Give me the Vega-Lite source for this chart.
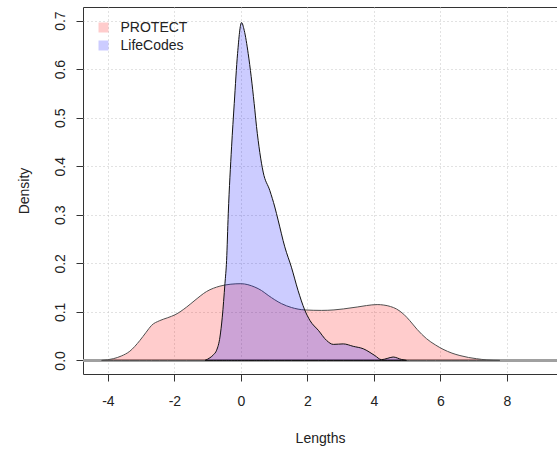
{
  "$schema": "https://vega.github.io/schema/vega-lite/v6.json",
  "width": 474,
  "height": 367,
  "autosize": {"type": "none"},
  "padding": {"left": 83, "top": 7, "right": 0, "bottom": 75},
  "background": "white",
  "config": {
    "font": "Liberation Sans",
    "view": {"stroke": "#333333", "strokeWidth": 1},
    "axis": {
      "labelFont": "Liberation Sans",
      "labelFontSize": 14,
      "labelColor": "#222222",
      "titleFont": "Liberation Sans",
      "titleFontSize": 14,
      "titleFontWeight": "normal",
      "titleColor": "#222222",
      "tickColor": "#333333",
      "tickSize": 7,
      "domain": false,
      "grid": true,
      "gridColor": "#c4c4c4",
      "gridDash": [1, 3],
      "gridWidth": 1,
      "labelFlush": false
    },
    "legend": {
      "orient": "none",
      "legendX": 13.5,
      "legendY": 13.5,
      "padding": 0,
      "symbolType": "square",
      "symbolSize": 100,
      "symbolStrokeWidth": 0,
      "labelFont": "Liberation Sans",
      "labelFontSize": 14,
      "labelColor": "#222222",
      "labelOffset": 10,
      "rowPadding": 4
    }
  },
  "data": {
    "values": [
      {"series": "PROTECT", "x": -4.19, "d": 0},
      {"series": "PROTECT", "x": -3.84, "d": 0.0035},
      {"series": "PROTECT", "x": -3.6, "d": 0.009},
      {"series": "PROTECT", "x": -3.34, "d": 0.019},
      {"series": "PROTECT", "x": -3.04, "d": 0.041},
      {"series": "PROTECT", "x": -2.85, "d": 0.058},
      {"series": "PROTECT", "x": -2.69, "d": 0.072},
      {"series": "PROTECT", "x": -2.44, "d": 0.082},
      {"series": "PROTECT", "x": -2.2, "d": 0.088},
      {"series": "PROTECT", "x": -1.98, "d": 0.094},
      {"series": "PROTECT", "x": -1.63, "d": 0.11},
      {"series": "PROTECT", "x": -1.38, "d": 0.124},
      {"series": "PROTECT", "x": -1.03, "d": 0.142},
      {"series": "PROTECT", "x": -0.63, "d": 0.153},
      {"series": "PROTECT", "x": -0.3, "d": 0.157},
      {"series": "PROTECT", "x": 0, "d": 0.158},
      {"series": "PROTECT", "x": 0.42, "d": 0.151},
      {"series": "PROTECT", "x": 0.62, "d": 0.144},
      {"series": "PROTECT", "x": 0.82, "d": 0.134},
      {"series": "PROTECT", "x": 1.22, "d": 0.117},
      {"series": "PROTECT", "x": 1.52, "d": 0.109},
      {"series": "PROTECT", "x": 1.92, "d": 0.104},
      {"series": "PROTECT", "x": 2.43, "d": 0.103},
      {"series": "PROTECT", "x": 2.8, "d": 0.104},
      {"series": "PROTECT", "x": 3.08, "d": 0.106},
      {"series": "PROTECT", "x": 3.5, "d": 0.11},
      {"series": "PROTECT", "x": 3.78, "d": 0.113},
      {"series": "PROTECT", "x": 4.1, "d": 0.115},
      {"series": "PROTECT", "x": 4.3, "d": 0.114},
      {"series": "PROTECT", "x": 4.5, "d": 0.111},
      {"series": "PROTECT", "x": 4.68, "d": 0.106},
      {"series": "PROTECT", "x": 4.9, "d": 0.095},
      {"series": "PROTECT", "x": 5.08, "d": 0.082},
      {"series": "PROTECT", "x": 5.3, "d": 0.064},
      {"series": "PROTECT", "x": 5.58, "d": 0.045},
      {"series": "PROTECT", "x": 5.85, "d": 0.032},
      {"series": "PROTECT", "x": 6.08, "d": 0.023},
      {"series": "PROTECT", "x": 6.35, "d": 0.015},
      {"series": "PROTECT", "x": 6.59, "d": 0.01},
      {"series": "PROTECT", "x": 6.85, "d": 0.006},
      {"series": "PROTECT", "x": 7.09, "d": 0.0035},
      {"series": "PROTECT", "x": 7.4, "d": 0.001},
      {"series": "PROTECT", "x": 7.79, "d": 0},
      {"series": "LifeCodes", "x": -1.08, "d": 0},
      {"series": "LifeCodes", "x": -0.93, "d": 0.0055},
      {"series": "LifeCodes", "x": -0.82, "d": 0.012},
      {"series": "LifeCodes", "x": -0.73, "d": 0.021},
      {"series": "LifeCodes", "x": -0.63, "d": 0.048},
      {"series": "LifeCodes", "x": -0.56, "d": 0.089},
      {"series": "LifeCodes", "x": -0.48, "d": 0.158},
      {"series": "LifeCodes", "x": -0.43, "d": 0.206},
      {"series": "LifeCodes", "x": -0.38, "d": 0.302},
      {"series": "LifeCodes", "x": -0.28, "d": 0.44},
      {"series": "LifeCodes", "x": -0.2, "d": 0.529},
      {"series": "LifeCodes", "x": -0.1, "d": 0.632},
      {"series": "LifeCodes", "x": 0.02, "d": 0.696},
      {"series": "LifeCodes", "x": 0.1, "d": 0.68},
      {"series": "LifeCodes", "x": 0.22, "d": 0.632},
      {"series": "LifeCodes", "x": 0.4, "d": 0.529},
      {"series": "LifeCodes", "x": 0.47, "d": 0.482},
      {"series": "LifeCodes", "x": 0.57, "d": 0.428},
      {"series": "LifeCodes", "x": 0.67, "d": 0.388},
      {"series": "LifeCodes", "x": 0.87, "d": 0.35},
      {"series": "LifeCodes", "x": 1.02, "d": 0.316},
      {"series": "LifeCodes", "x": 1.12, "d": 0.289},
      {"series": "LifeCodes", "x": 1.32, "d": 0.234},
      {"series": "LifeCodes", "x": 1.52, "d": 0.192},
      {"series": "LifeCodes", "x": 1.72, "d": 0.144},
      {"series": "LifeCodes", "x": 1.92, "d": 0.104},
      {"series": "LifeCodes", "x": 2.08, "d": 0.082},
      {"series": "LifeCodes", "x": 2.33, "d": 0.062},
      {"series": "LifeCodes", "x": 2.58, "d": 0.041},
      {"series": "LifeCodes", "x": 2.78, "d": 0.033},
      {"series": "LifeCodes", "x": 3.08, "d": 0.034},
      {"series": "LifeCodes", "x": 3.38, "d": 0.029},
      {"series": "LifeCodes", "x": 3.68, "d": 0.024},
      {"series": "LifeCodes", "x": 4.03, "d": 0.01},
      {"series": "LifeCodes", "x": 4.23, "d": 0.0015},
      {"series": "LifeCodes", "x": 4.4, "d": 0.004},
      {"series": "LifeCodes", "x": 4.58, "d": 0.007},
      {"series": "LifeCodes", "x": 4.83, "d": 0.002},
      {"series": "LifeCodes", "x": 4.98, "d": 0}
    ]
  },
  "layer": [
    {
      "mark": {"type": "rule", "color": "#a0a0a0", "strokeWidth": 1.5},
      "encoding": {
        "x": {
          "datum": -4.75,
          "type": "quantitative",
          "scale": {"domain": [-4.75, 9.51], "nice": false, "zero": false},
          "axis": {
            "values": [-4, -2, 0, 2, 4, 6, 8],
            "labelExpr": "datum.value < 0 ? '-' + abs(datum.value) : '' + datum.value",
            "title": "Lengths",
            "labelPadding": 13,
            "titlePadding": 23
          }
        },
        "x2": {"datum": 9.51},
        "y": {
          "datum": 0,
          "type": "quantitative",
          "scale": {"domain": [-0.028, 0.728], "nice": false, "zero": false},
          "axis": {
            "values": [0, 0.1, 0.2, 0.3, 0.4, 0.5, 0.6, 0.7],
            "format": ".1f",
            "title": "Density",
            "labelAngle": 270,
            "labelAlign": "center",
            "labelBaseline": "bottom",
            "labelPadding": 9,
            "titlePadding": 22
          }
        }
      }
    },
    {
      "transform": [{"filter": "datum.series === 'PROTECT'"}],
      "mark": {"type": "area", "interpolate": "monotone", "stroke": "#505050", "strokeWidth": 1, "fillOpacity": 1},
      "encoding": {
        "x": {"field": "x", "type": "quantitative"},
        "y": {"field": "d", "type": "quantitative"},
        "fill": {
          "field": "series",
          "type": "nominal",
          "scale": {"domain": ["PROTECT", "LifeCodes"], "range": ["rgba(255,0,0,0.2)", "rgba(0,0,255,0.2)"]},
          "legend": {"title": null}
        }
      }
    },
    {
      "transform": [{"filter": "datum.series === 'LifeCodes'"}],
      "mark": {"type": "area", "interpolate": "monotone", "stroke": "#111111", "strokeWidth": 1, "fillOpacity": 1},
      "encoding": {
        "x": {"field": "x", "type": "quantitative"},
        "y": {"field": "d", "type": "quantitative"},
        "fill": {"field": "series", "type": "nominal"}
      }
    }
  ]
}
